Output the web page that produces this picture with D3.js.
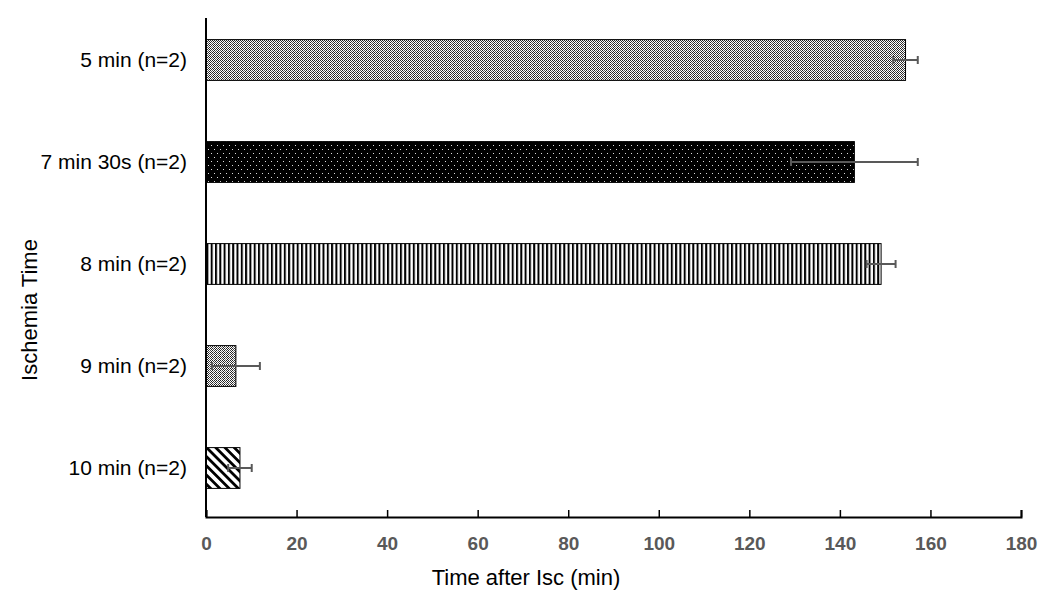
<!DOCTYPE html>
<html>
<head>
<meta charset="utf-8">
<script src="https://cdn.jsdelivr.net/npm/d3@7"></script>
<style>
  body { margin: 0; background: #fff; }
  svg text { font-family: "Liberation Sans", Arial, sans-serif; }
</style>
</head>
<body>
<script>
// data
const categories = ["5 min (n=2)", "7 min 30s (n=2)", "8 min (n=2)", "9 min (n=2)", "10 min (n=2)"];
const means = [154.5, 143.2, 149.1, 6.6, 7.5];
const errors = [2.7, 14, 3.2, 5.3, 2.6];
const patternIds = ["checker", "dots", "vstripes", "fine", "diag"];
const xTicks = [0, 20, 40, 60, 80, 100, 120, 140, 160, 180];

const W = 1050, H = 605;
const x0 = 206, x1 = 1021, yTop = 18, yBase = 517;

let svg = d3.select("body").append("svg")
    .attr("width", W)
    .attr("height", H);

// fill patterns
let defs = svg.append("defs");

/**
 * small helper: pattern tile of single pixels
 */
function pixelPattern(id, w, h, bg, dots) {
    let p = defs.append("pattern").attr("id", id)
        .attr("patternUnits", "userSpaceOnUse").attr("width", w).attr("height", h);
    p.append("rect").attr("width", w).attr("height", h).attr("fill", bg);
    dots.forEach(function (d) {
        p.append("rect").attr("x", d[0]).attr("y", d[1]).attr("width", 1).attr("height", 1).attr("fill", d[2]);
    });
    return p;
}

pixelPattern("checker", 4, 4, "#fff", [
    [0, 0, "#222"], [2, 0, "#222"], [1, 1, "#222"], [3, 1, "#333"],
    [0, 2, "#555"], [2, 2, "#222"], [1, 3, "#222"], [3, 3, "#555"]
]);

pixelPattern("dots", 6, 8, "#000", [[1, 1, "#ddd"], [4, 5, "#ddd"]]);

let p3 = defs.append("pattern").attr("id", "vstripes")
    .attr("patternUnits", "userSpaceOnUse").attr("width", 4.3).attr("height", 4);
p3.append("rect").attr("width", 4.3).attr("height", 4).attr("fill", "#fff");
p3.append("rect").attr("width", 2).attr("height", 4).attr("fill", "#000");

pixelPattern("fine", 4, 4, "#fff", [
    [0, 0, "#222"], [2, 0, "#222"], [1, 1, "#444"], [3, 1, "#222"],
    [0, 2, "#222"], [2, 2, "#444"], [3, 3, "#222"], [1, 3, "#777"]
]);

let p5 = defs.append("pattern").attr("id", "diag")
    .attr("patternUnits", "userSpaceOnUse").attr("width", 6.5).attr("height", 6.5)
    .attr("patternTransform", "rotate(45)");
p5.append("rect").attr("width", 6.5).attr("height", 6.5).attr("fill", "#fff");
p5.append("rect").attr("width", 6.5).attr("height", 2.8).attr("fill", "#000");

// scales
let x = d3.scaleLinear().domain([0, 180]).range([x0, x1]);
let y = d3.scaleBand().domain(categories).range([9, 519]).paddingInner(0.6).paddingOuter(0.3);

// bars
svg.append("g").selectAll("rect")
    .data(categories)
    .join("rect")
    .attr("x", x(0))
    .attr("y", d => y(d))
    .attr("width", (d, i) => x(means[i]) - x(0))
    .attr("height", y.bandwidth())
    .attr("fill", (d, i) => "url(#" + patternIds[i] + ")")
    .attr("stroke", "#000")
    .attr("stroke-width", 1);

// error bars
let eb = svg.append("g").attr("stroke", "#595959").attr("stroke-width", 2);
categories.forEach(function (c, i) {
    const cy = y(c) + y.bandwidth() / 2;
    const lo = Math.max(0, means[i] - errors[i]), hi = means[i] + errors[i];
    eb.append("line").attr("x1", x(lo)).attr("x2", x(hi)).attr("y1", cy).attr("y2", cy);
    eb.append("line").attr("x1", x(hi)).attr("x2", x(hi)).attr("y1", cy - 4).attr("y2", cy + 4);
    if (means[i] - errors[i] > 0)
        eb.append("line").attr("x1", x(lo)).attr("x2", x(lo)).attr("y1", cy - 4).attr("y2", cy + 4);
});

// x axis
let xAxis = d3.axisBottom(x).tickValues(xTicks).tickSizeInner(-7).tickSizeOuter(-7).tickPadding(20);
let gx = svg.append("g")
    .attr("transform", "translate(0," + yBase + ")")
    .call(xAxis);
gx.select(".domain").attr("stroke", "#000").attr("stroke-width", 2);
gx.selectAll(".tick line").attr("stroke", "#000").attr("stroke-width", 1.5);
gx.selectAll(".tick text")
    .attr("font-size", 19).attr("font-weight", "bold").attr("fill", "#595959");

// y axis line
svg.append("line")
    .attr("x1", x0).attr("x2", x0).attr("y1", yTop).attr("y2", yBase)
    .attr("stroke", "#000").attr("stroke-width", 2);

// category labels
svg.append("g").selectAll("text")
    .data(categories)
    .join("text")
    .attr("x", x0 - 19)
    .attr("y", d => y(d) + y.bandwidth() / 2)
    .attr("dy", "0.35em")
    .attr("text-anchor", "end")
    .attr("font-size", 21)
    .attr("fill", "#000")
    .text(d => d);

// axis titles
svg.append("text")
    .attr("x", 526)
    .attr("y", 585)
    .attr("text-anchor", "middle")
    .attr("font-size", 22)
    .text("Time after Isc (min)");

svg.append("text")
    .attr("transform", "translate(37,310) rotate(-90)")
    .attr("text-anchor", "middle")
    .attr("font-size", 22)
    .text("Ischemia Time");
</script>
</body>
</html>
